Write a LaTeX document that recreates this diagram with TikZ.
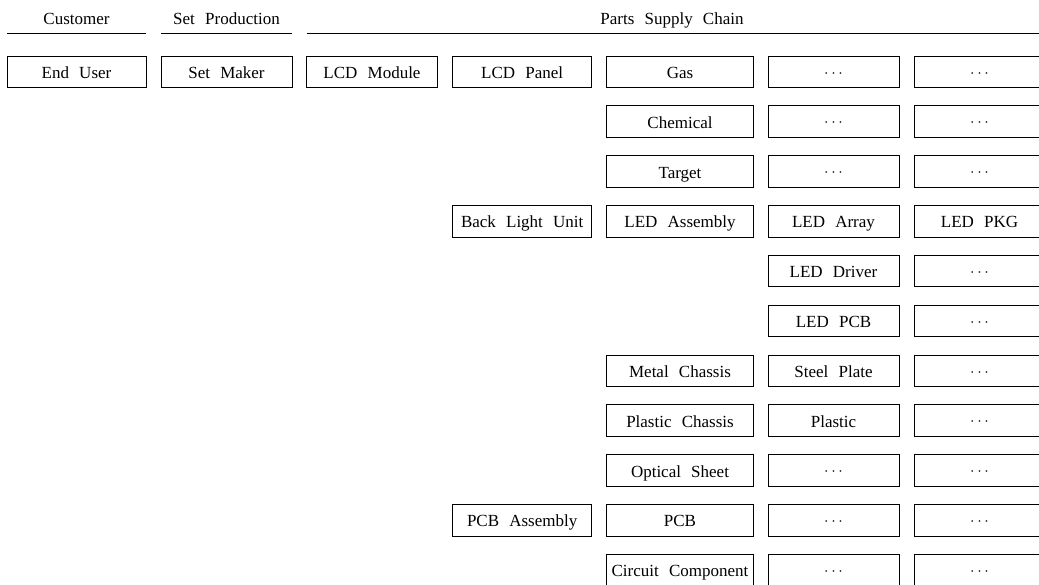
\documentclass[tikz,border=0pt]{standalone}
\usepackage{fontspec}
\setmainfont[WordSpace=2.4]{Liberation Serif}
\usetikzlibrary{positioning}
\tikzset{
  every picture/.style={font=\fontsize{12.75}{15}\selectfont},
  chain box/.style={draw, line width=0.65pt, inner sep=0pt,
    text height=11pt, text depth=1pt,
    minimum height=31.5*0.75pt, minimum width=#1*0.75pt},
  head text/.style={inner sep=0pt, text height=11pt, text depth=1pt},
  head rule/.style={draw, line width=0.65pt}
}
% column centres (px)
\def\colA{76.5}
\def\colB{226.5}
\def\colC{372}
\def\colD{522.2}
\def\colE{680}
\def\colF{833.5}
\def\colG{979.5}

\begin{document}
\begin{tikzpicture}[x=0.75pt,y=-0.75pt]
  \useasboundingbox (0,0) rectangle (1039,585);
  % headings
  \node[head text] (h-cust) at (\colA,17.5) {Customer};
  \node[head text] (h-set) at (\colB,17.5) {Set Production};
  \node[head text] (h-parts) at (672,17.5) {Parts Supply Chain};
  \draw[head rule] (7,33.3) -- (146,33.3);
  \draw[head rule] (161,33.3) -- (292,33.3);
  \draw[head rule] (306.5,33.3) -- (1039,33.3);
  % named boxes
  \foreach \cx/\w/\r/\n/\t in {
      \colA/139/1/enduser/End User,
      \colB/131/1/setmaker/Set Maker,
      \colC/131/1/lcdmod/LCD Module,
      \colD/139/1/lcdpanel/LCD Panel,
      \colE/147/1/gas/Gas,
      \colE/147/2/chem/Chemical,
      \colE/147/3/target/Target,
      \colD/139/4/blu/Back Light Unit,
      \colE/147/4/ledasm/LED Assembly,
      \colF/131/4/ledarray/LED Array,
      \colG/131/4/ledpkg/LED PKG,
      \colF/131/5/leddrv/LED Driver,
      \colF/131/6/ledpcb/LED PCB,
      \colE/147/7/metal/Metal Chassis,
      \colF/131/7/steel/Steel Plate,
      \colE/147/8/plchassis/Plastic Chassis,
      \colF/131/8/plastic/Plastic,
      \colE/147/9/optical/Optical Sheet,
      \colD/139/10/pcbasm/PCB Assembly,
      \colE/147/10/pcb/PCB,
      \colE/147/11/circuit/Circuit Component}
    \node[chain box=\w] (\n) at (\cx,{71.8+(\r-1)*49.83}) {\t};
  % open boxes
  \foreach \cx/\r/\n in {
      \colF/1/gas-f, \colG/1/gas-g,
      \colF/2/chem-f, \colG/2/chem-g,
      \colF/3/target-f, \colG/3/target-g,
      \colG/5/leddrv-g, \colG/6/ledpcb-g,
      \colG/7/steel-g, \colG/8/plastic-g,
      \colF/9/optical-f, \colG/9/optical-g,
      \colF/10/pcb-f, \colG/10/pcb-g,
      \colF/11/circuit-f, \colG/11/circuit-g}
    \node[chain box=131] (\n) at (\cx,{71.8+(\r-1)*49.83}) {\raisebox{1pt}{$\cdots$}};
\end{tikzpicture}
\end{document}
